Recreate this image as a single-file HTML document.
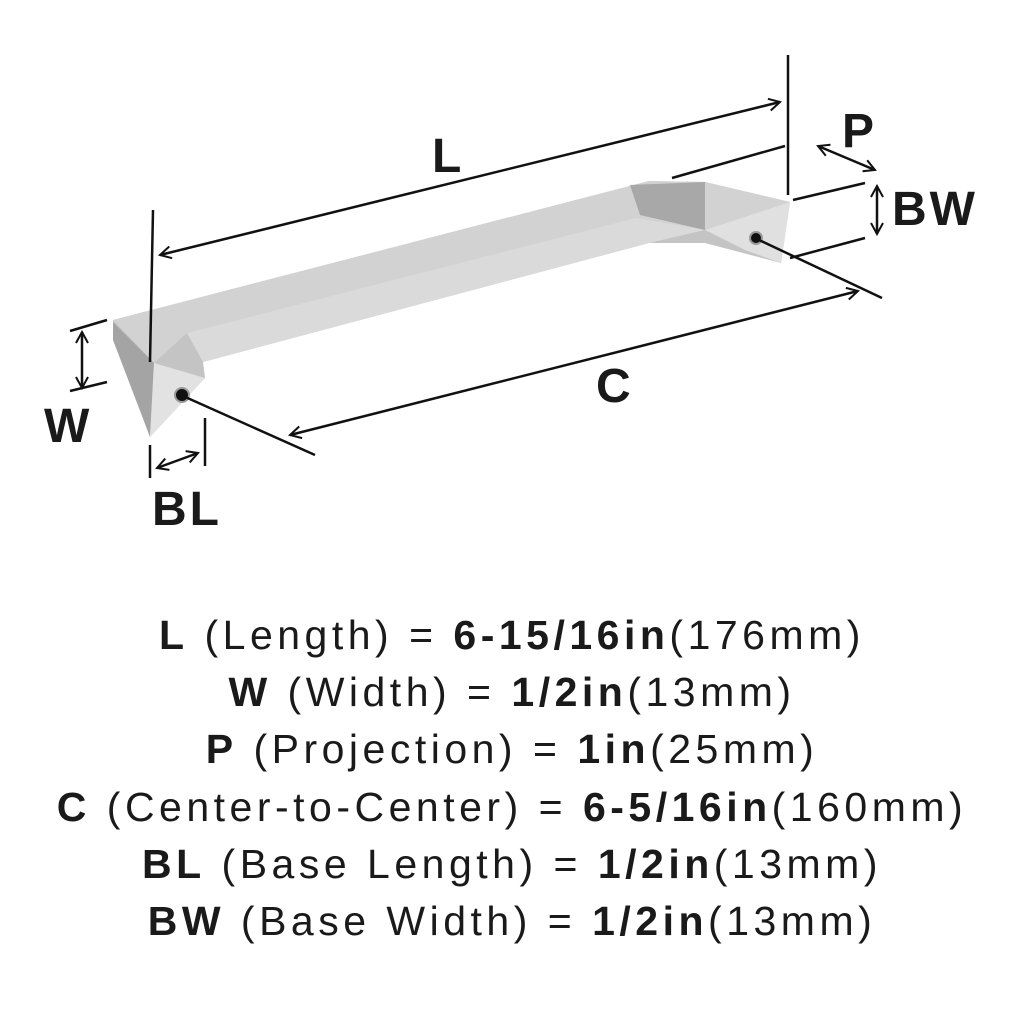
<!DOCTYPE html>
<html><head><style>
body{margin:0;background:#fff;width:1024px;height:1024px;overflow:hidden}
svg{position:absolute;left:0;top:0}
.t{position:absolute;left:0;width:1024px;text-align:center;font-family:"Liberation Sans",sans-serif;font-size:41px;color:#1a1a1a;letter-spacing:4.5px;white-space:nowrap}
b{font-weight:bold}
</style></head><body>
<svg width="1024" height="1024" viewBox="0 0 1024 1024">
<defs>
<marker id="a" markerWidth="14" markerHeight="14" refX="12" refY="7" orient="auto-start-reverse" markerUnits="userSpaceOnUse"><path d="M1,1 L12,7 L1,13" fill="none" stroke="#111" stroke-width="2"/></marker>
</defs>
<polygon points="113,320 649,181 705,182 790,202 781,263 705,243 649,243 203,362 205,378 150,437 113,330" fill="#c4c4c4"/>
<polygon points="113,320 649,181 705,182 790,202 705,230 649,228 187,333 154,363" fill="#d2d2d2"/>
<polygon points="187,333 636,218 705,230 649,243 203,362" fill="#dadada"/>
<polygon points="113,322 154,363 150,437 113,340" fill="#a4a4a4"/>
<polygon points="154,363 205,378 150,437" fill="#e2e2e2"/>
<polygon points="630,185 705,182 705,230 640,215" fill="#a8a8a8"/>
<polygon points="705,230 790,202 781,263 745,250" fill="#e0e0e0"/>
<circle cx="182" cy="395" r="7" fill="#111" stroke="#999" stroke-width="2"/>
<circle cx="756" cy="238" r="6" fill="#111" stroke="#999" stroke-width="2"/>
<g stroke="#111" stroke-width="2.5" fill="none">
<line x1="160" y1="255" x2="780" y2="102" marker-start="url(#a)" marker-end="url(#a)"/>
<line x1="153" y1="210" x2="150" y2="362"/>
<line x1="788" y1="55" x2="788" y2="195"/>
<line x1="672" y1="178" x2="785" y2="146"/>
<line x1="818" y1="146" x2="875" y2="170" marker-start="url(#a)" marker-end="url(#a)"/>
<line x1="793" y1="200" x2="865" y2="183"/>
<line x1="790" y1="258" x2="865" y2="238"/>
<line x1="877" y1="186" x2="877" y2="234" marker-start="url(#a)" marker-end="url(#a)"/>
<line x1="290" y1="435" x2="858" y2="291" marker-start="url(#a)" marker-end="url(#a)"/>
<line x1="183" y1="396" x2="315" y2="455"/>
<line x1="757" y1="239" x2="882" y2="298"/>
<line x1="70" y1="331" x2="107" y2="320"/>
<line x1="70" y1="391" x2="107" y2="382"/>
<line x1="82" y1="332" x2="82" y2="388" marker-start="url(#a)" marker-end="url(#a)"/>
<line x1="150" y1="445" x2="150" y2="478"/>
<line x1="205" y1="418" x2="205" y2="466"/>
<line x1="157" y1="468" x2="198" y2="453" marker-start="url(#a)" marker-end="url(#a)"/>
</g>
<g font-family="Liberation Sans,sans-serif" font-weight="bold" font-size="48" fill="#1a1a1a" letter-spacing="3">
<text x="432" y="172">L</text>
<text x="842" y="147">P</text>
<text x="892" y="225">BW</text>
<text x="596" y="402">C</text>
<text x="44" y="442">W</text>
<text x="152" y="525">BL</text>
</g>
</svg>
<div class="t" style="top:612px"><b>L</b> (Length) = <b>6-15/16in</b>(176mm)</div>
<div class="t" style="top:669px"><b>W</b> (Width) = <b>1/2in</b>(13mm)</div>
<div class="t" style="top:726px"><b>P</b> (Projection) = <b>1in</b>(25mm)</div>
<div class="t" style="top:784px"><b>C</b> (Center-to-Center) = <b>6-5/16in</b>(160mm)</div>
<div class="t" style="top:841px"><b>BL</b> (Base Length) = <b>1/2in</b>(13mm)</div>
<div class="t" style="top:898px"><b>BW</b> (Base Width) = <b>1/2in</b>(13mm)</div>
</body></html>
